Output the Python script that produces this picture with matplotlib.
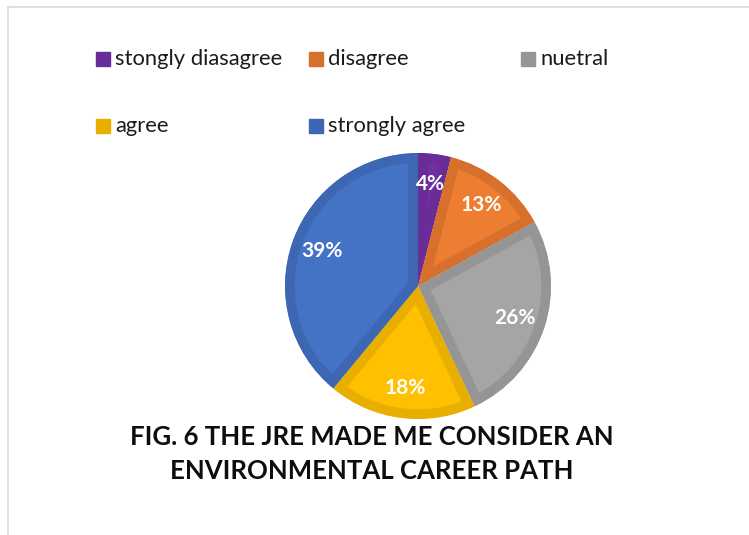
import matplotlib.pyplot as plt
from matplotlib.patches import Rectangle

plt.rcParams['font.family'] = ['Lato', 'DejaVu Sans']

labels = ['stongly diasagree', 'disagree', 'nuetral', 'agree', 'strongly agree']
shares = [4, 13, 26, 18, 39]
fills = ['#7030A0', '#ED7D31', '#A5A5A5', '#FFC000', '#4472C4']
edges = ['#6A2D97', '#D6702C', '#959595', '#E8AE00', '#3E67B3']
title = 'FIG. 6 THE JRE MADE ME CONSIDER AN\nENVIRONMENTAL CAREER PATH'

W, H = 749, 535
fig = plt.figure(figsize=(W / 100, H / 100), dpi=100)

# chart border, cut off at right and bottom like the screenshot
fig.add_artist(Rectangle((7.5 / W, -0.1), 1.2, (H - 7.5) / H + 0.1,
                         transform=fig.transFigure, fill=False,
                         edgecolor='#D9D9D9', lw=1.2))

# pie placed in pixel terms
cx, cy, r = 418, 286, 133
ax = fig.add_axes([(cx - r) / W, (H - cy - r) / H, 2 * r / W, 2 * r / H])
wedges, texts, autotexts = ax.pie(
    shares, colors=fills, startangle=90, counterclock=False,
    autopct='%.0f%%', pctdistance=0.77,
    textprops=dict(color='white', fontsize=15, fontweight='bold'))
for w, ec in zip(wedges, edges):
    w.set_edgecolor(ec)
    w.set_linewidth(14)
    w.set_clip_on(True)
    w.set_clip_path(w)  # keep the thick border inside each slice
ax.set_xlim(-1, 1)
ax.set_ylim(-1, 1)

# legend laid out like the original (3 + 2 entries)
slots = [(96, 59), (309, 59), (521, 59), (96, 126), (309, 126)]
for (x, y), lab, ec in zip(slots, labels, edges):
    fig.add_artist(Rectangle((x / W, (H - y - 7) / H), 14 / W, 14 / H,
                             transform=fig.transFigure, color=ec))
    fig.text((x + 19) / W, (H - y) / H, lab, ha='left', va='center',
             fontsize=15.8, color='#1a1a1a')

fig.text(372 / W, (H - 454) / H, title, ha='center', va='center',
         fontsize=18.5, fontweight='bold', color='#0d0d0d', linespacing=1.5)

fig.savefig('out.png', dpi=100)
